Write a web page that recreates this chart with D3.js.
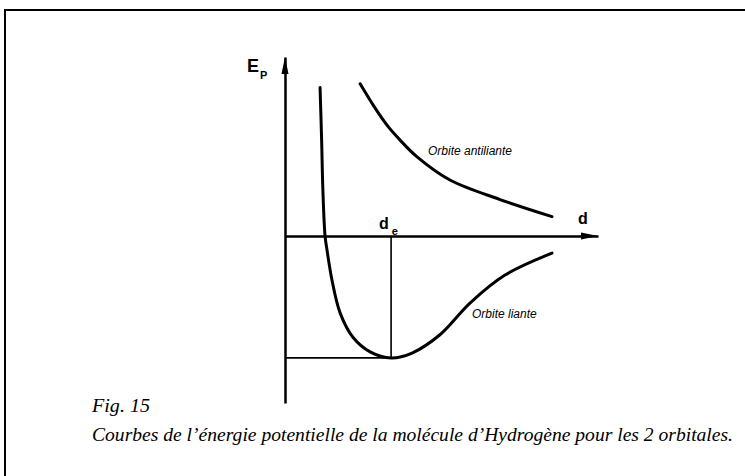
<!DOCTYPE html>
<html>
<head>
	<meta charset="utf-8">
	<title>Fig. 15</title>
	<script src="https://cdn.jsdelivr.net/npm/d3@7"></script>
	<style>
		body { margin: 0; background: #fff; }
	</style>
</head>
<body>
	<div id="chart"></div>
	<script>

	// data (arbitrary units: d along x, energy along y, minimum of bonding curve = -1)
	const liantD   = [1.12, 1.17, 1.21, 1.28, 1.34, 1.50, 1.76, 2.17, 2.72, 3.39, 4.06, 4.95, 5.91, 7.03, 8.53];
	const liantE   = [1.22, 0.79, 0.38, 0.00, -0.11, -0.36, -0.63, -0.83, -0.95, -1.00, -0.96, -0.81, -0.55, -0.32, -0.14];
	const antiD    = [2.40, 2.88, 3.29, 3.67, 4.22, 5.27, 6.87, 8.53];
	const antiE    = [1.25, 1.05, 0.90, 0.79, 0.65, 0.46, 0.30, 0.16];
	const dEq      = 3.39;
	const eMin     = -1.0;
	const labels   = { anti: "Orbite antiliante", liant: "Orbite liante" };
	const figTitle = "Fig. 15";
	const caption  = "Courbes de l\u2019énergie potentielle de la molécule d\u2019Hydrogène pour les 2 orbitales.";

	const width  = 745;
	const height = 476;

	const x = d3.scaleLinear().domain([0, 10]).range([285, 598]);
	const y = d3.scaleLinear().domain([-1.37, 1.47]).range([403, 57]);

	const svg = d3.select("#chart").append("svg")
		.attr("width", width)
		.attr("height", height)
		.attr("viewBox", [0, 0, width, height]);

	// page frame (top + left edges)
	svg.append("path")
		.attr("d", `M5,${height} V10 H${width}`)
		.attr("fill", "none")
		.attr("stroke", "#000")
		.attr("stroke-width", 2);

	// axes: domain lines only, no ticks
	svg.append("g")
		.attr("transform", `translate(0,${y(0)})`)
		.call(d3.axisBottom(x).tickValues([]).tickSizeOuter(0))
		.call(g => g.select(".domain").attr("stroke-width", 2.5));

	svg.append("g")
		.attr("transform", `translate(${x(0)},0)`)
		.call(d3.axisLeft(y).tickValues([]).tickSizeOuter(0))
		.call(g => g.select(".domain").attr("stroke-width", 2.5));

	// arrowheads
	const xe = x(10), ye = y(0);
	svg.append("path")
		.attr("d", `M${xe},${ye} L${xe - 17},${ye - 3.5} L${xe - 17},${ye + 3.5} Z`)
		.attr("fill", "#000");
	const xt = x(0), yt = y(1.47);
	svg.append("path")
		.attr("d", `M${xt},${yt} L${xt - 3.5},${yt + 17} L${xt + 3.5},${yt + 17} Z`)
		.attr("fill", "#000");

	// equilibrium guides
	svg.append("line")
		.attr("x1", x(dEq)).attr("y1", y(0))
		.attr("x2", x(dEq)).attr("y2", y(eMin))
		.attr("stroke", "#000").attr("stroke-width", 1.6);
	svg.append("line")
		.attr("x1", x(0)).attr("y1", y(eMin))
		.attr("x2", x(dEq)).attr("y2", y(eMin))
		.attr("stroke", "#000").attr("stroke-width", 1.8);

	// curves
	const line = d3.line()
		.curve(d3.curveCatmullRom.alpha(0.5))
		.x(d => x(d[0]))
		.y(d => y(d[1]));

	svg.append("path")
		.attr("d", line(d3.zip(liantD, liantE)))
		.attr("fill", "none")
		.attr("stroke", "#000")
		.attr("stroke-width", 3)
		.attr("stroke-linecap", "round");

	svg.append("path")
		.attr("d", line(d3.zip(antiD, antiE)))
		.attr("fill", "none")
		.attr("stroke", "#000")
		.attr("stroke-width", 3)
		.attr("stroke-linecap", "round");

	// labels
	const sans = "Liberation Sans, Arial, sans-serif";
	const serif = "Liberation Serif, Times New Roman, serif";

	const ep = svg.append("text")
		.attr("x", 247).attr("y", 72)
		.attr("font-family", sans).attr("font-weight", "bold").attr("font-size", 18);
	ep.append("tspan").text("E");
	ep.append("tspan").attr("dx", 1).attr("dy", 7).attr("font-size", 11).text("P");

	svg.append("text")
		.attr("x", 578).attr("y", 224)
		.attr("font-family", sans).attr("font-weight", "bold").attr("font-size", 16)
		.text("d");

	const de = svg.append("text")
		.attr("x", 379).attr("y", 229)
		.attr("font-family", sans).attr("font-weight", "bold").attr("font-size", 16);
	de.append("tspan").text("d");
	de.append("tspan").attr("dx", 3).attr("dy", 6).attr("font-size", 11).text("e");

	svg.append("text")
		.attr("x", 428).attr("y", 155)
		.attr("font-family", sans).attr("font-style", "italic").attr("font-size", 12)
		.text(labels.anti);

	svg.append("text")
		.attr("x", 472).attr("y", 318)
		.attr("font-family", sans).attr("font-style", "italic").attr("font-size", 12)
		.text(labels.liant);

	svg.append("text")
		.attr("x", 92).attr("y", 412)
		.attr("font-family", serif).attr("font-style", "italic").attr("font-size", 18)
		.attr("textLength", 58).attr("lengthAdjust", "spacingAndGlyphs")
		.text(figTitle);

	svg.append("text")
		.attr("x", 92).attr("y", 441)
		.attr("font-family", serif).attr("font-style", "italic").attr("font-size", 18)
		.attr("textLength", 641).attr("lengthAdjust", "spacingAndGlyphs")
		.text(caption);

	</script>
</body>
</html>
